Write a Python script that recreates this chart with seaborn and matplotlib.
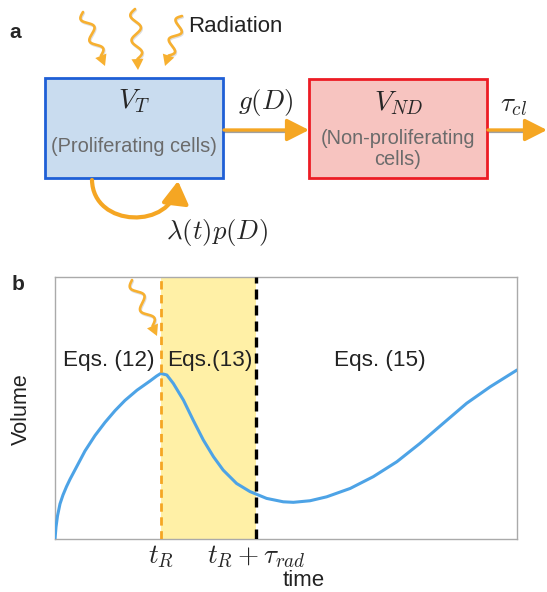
import numpy as np
import matplotlib
matplotlib.use('Agg')
import matplotlib.pyplot as plt
import seaborn as sns
import pandas as pd
from matplotlib.patches import Rectangle, FancyArrowPatch, Polygon
from matplotlib.path import Path

sns.set_theme(style='white')
plt.rcParams['font.family'] = ['Liberation Sans', 'DejaVu Sans']
plt.rcParams['mathtext.fontset'] = 'cm'

# ---- data (panel b) ----
curve_time = [0.0, 0.022, 0.054, 0.108, 0.173, 0.249, 0.325, 0.487, 0.649, 0.866, 1.082,
              1.30, 1.515, 1.775, 2.056, 2.20, 2.29, 2.42,
              2.56, 2.78, 2.99, 3.21, 3.43, 3.64, 3.93, 4.22, 4.58, 4.94, 5.16, 5.52,
              5.88, 6.39, 6.89, 7.40, 7.90, 8.40, 8.91, 9.42, 10.0]
curve_volume = [0.0, 0.046, 0.088, 0.134, 0.168, 0.200, 0.228, 0.282, 0.336, 0.395, 0.445,
                0.490, 0.529, 0.568, 0.603, 0.622, 0.632, 0.626,
                0.594, 0.530, 0.454, 0.378, 0.314, 0.263, 0.212, 0.181,
                0.155, 0.142, 0.140, 0.146, 0.161, 0.193, 0.238, 0.295, 0.365, 0.441,
                0.518, 0.581, 0.645]
t_R = 2.29
t_R_tau = 4.35
phase_labels = ['Eqs. (12)', 'Eqs.(13)', 'Eqs. (15)']
phase_label_x = [1.16, 3.36, 7.04]
phase_label_y = 0.683
tick_labels = [r'$t_R$', r'$t_R + \tau_{rad}$']

ORANGE = '#f5a623'
WAVE = '#f7b030'

fig = plt.figure(figsize=(5.47, 5.92), dpi=100)

# ---- panel b ----
axb = fig.add_axes([55/547, 1-539/592, 462/547, 262/592])
df = pd.DataFrame({'time': curve_time, 'volume': curve_volume})
axb.axvspan(t_R, t_R_tau, color='#fff0a6', zorder=0, lw=0)
sns.lineplot(data=df, x='time', y='volume', ax=axb, color='#4da3e6', lw=2.2, zorder=3)
axb.axvline(t_R, color=ORANGE, ls=(0, (3, 2)), lw=2, zorder=4)
axb.axvline(t_R_tau, color='black', ls=(0, (3, 1.8)), lw=2.4, zorder=4)
axb.set_xlim(0, 10)
axb.set_ylim(0, 1)
for s in axb.spines.values():
    s.set_color('#aaaaaa')
    s.set_linewidth(1)
axb.set_xticks([t_R, t_R_tau])
axb.set_xticklabels(tick_labels, fontsize=19.5)
axb.tick_params(axis='x', length=0, pad=3)
axb.set_yticks([])
for lab, xx in zip(phase_labels, phase_label_x):
    axb.text(xx, phase_label_y, lab, ha='center', va='center', fontsize=16.2, color='#222222')
axb.set_xlabel('time', fontsize=16, color='#222222')
axb.xaxis.set_label_coords((304-55)/462, -0.118)
axb.set_ylabel('Volume', fontsize=15.5, color='#222222')
axb.yaxis.set_label_coords(-0.051, 0.496)

# ---- overlay (panel a diagram & annotations) ----
ov = fig.add_axes([0, 0, 1, 1])
ov.set_xlim(0, 547)
ov.set_ylim(592, 0)
ov.axis('off')


def wavy(ax, x0, y0, x1, y1, amp=5, nw=2, head=11, hw=6, lw=1.9, color=WAVE):
    L = np.hypot(x1-x0, y1-y0)
    ux, uy = (x1-x0)/L, (y1-y0)/L
    px, py = -uy, ux
    Ls = L - head
    s = np.linspace(0, Ls, 200)
    off = amp*np.sin(2*np.pi*nw*s/Ls)
    xs = x0 + ux*s + px*off
    ys = y0 + uy*s + py*off
    ax.plot(xs+0.8, ys+1.2, color='#c8c8c8', lw=lw, alpha=0.6, zorder=5)
    ax.plot(xs, ys, color=color, lw=lw, solid_capstyle='round', zorder=6)
    bx, by = x1 - ux*head, y1 - uy*head
    ax.add_patch(Polygon([(x1, y1), (bx+px*hw, by+py*hw), (bx-px*hw, by-py*hw)],
                         closed=True, color=color, zorder=6, lw=0))


wavy(ov, 83, 12, 105, 66)
wavy(ov, 135, 9, 138, 70)
wavy(ov, 182, 16, 165, 66)
wavy(ov, 132, 280, 157, 336)
ov.text(188, 27, 'Radiation', fontsize=16, ha='left', va='center', color='#222222')

ov.text(9, 33, 'a', fontsize=15, fontweight='bold', ha='left', va='center')
ov.text(12, 285, 'b', fontsize=15, fontweight='bold', ha='left', va='center')

# boxes
ov.add_patch(Rectangle((45, 78), 178, 100, facecolor='#c9dcef', edgecolor='#1f5fd6', lw=2, zorder=3))
ov.add_patch(Rectangle((309, 79), 178, 99, facecolor='#f7c4c0', edgecolor='#ec1c24', lw=2, zorder=3))
ov.text(134, 101, r'$V_T$', fontsize=20, ha='center', va='center', zorder=5)
ov.text(134, 147, '(Proliferating cells)', fontsize=14.4, ha='center', va='center', color='#6b6b6b', zorder=5)
ov.text(399, 103, r'$V_{ND}$', fontsize=20, ha='center', va='center', zorder=5)
ov.text(398, 149, '(Non-proliferating\ncells)', fontsize=14.4, ha='center', va='center',
        color='#6b6b6b', linespacing=1.15, zorder=5)

# straight arrows
for xa, xb in [(224, 309), (488, 547)]:
    ov.plot([xa, xb-10], [132, 132], color='#a0a0a0', lw=1.6, zorder=2)
    ov.annotate('', xy=(xb, 130), xytext=(xa, 130),
                arrowprops=dict(arrowstyle='-|>,head_length=0.75,head_width=0.38', color=ORANGE,
                                lw=2.4, shrinkA=0, shrinkB=0, mutation_scale=18), zorder=4)
ov.text(266, 102, r'$g(D)$', fontsize=19.5, ha='center', va='center')
ov.text(514, 105, r'$\tau_{cl}$', fontsize=19.5, ha='center', va='center')

# curved arrow
arc_path = Path([(92, 180), (93, 228), (172, 230), (178, 181)],
                [Path.MOVETO, Path.CURVE4, Path.CURVE4, Path.CURVE4])
arc = FancyArrowPatch(path=arc_path, arrowstyle='-|>,head_length=0.75,head_width=0.45',
                      mutation_scale=18, color=ORANGE, lw=3, zorder=4)
ov.add_patch(arc)
ov.text(217, 232, r'$\lambda(t)p(D)$', fontsize=19.3, ha='center', va='center')

fig.savefig('out.png', dpi=100)
